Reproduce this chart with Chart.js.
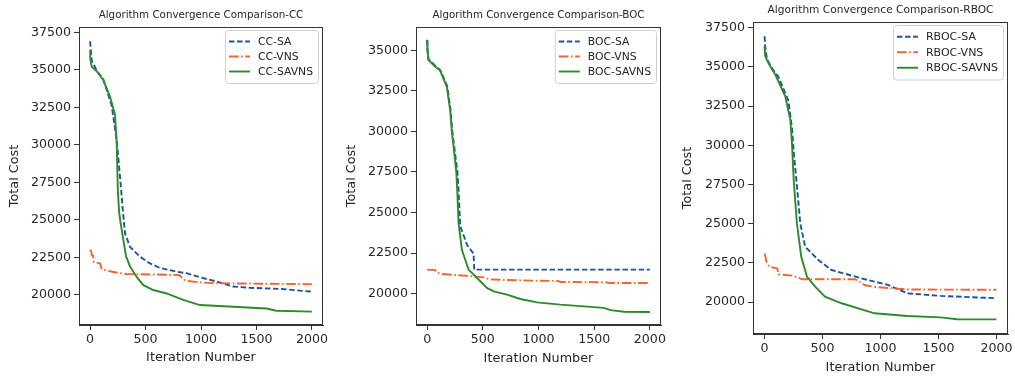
<!DOCTYPE html>
<html>
<head>
<meta charset="utf-8">
<script src="https://cdn.jsdelivr.net/npm/chart.js@4.4.0/dist/chart.umd.min.js"></script>
<style>
  html, body { margin: 0; padding: 0; background: #fff; }
  #wrap { position: relative; width: 1015px; height: 379px; background: #fff; overflow: hidden; }
  canvas { position: absolute; top: 0; }
</style>
</head>
<body>
<div id="wrap">
  <canvas id="c1" width="340" height="379" style="left:0px"></canvas>
  <canvas id="c2" width="335" height="379" style="left:340px"></canvas>
  <canvas id="c3" width="340" height="379" style="left:675px"></canvas>
</div>
<script>
// ---- data ----
var xTicks = [0, 500, 1000, 1500, 2000];
var yTicksCC = [20000, 22500, 25000, 27500, 30000, 32500, 35000, 37500];
var yTicksBOC = [20000, 22500, 25000, 27500, 30000, 32500, 35000];
var yTicksRBOC = [20000, 22500, 25000, 27500, 30000, 32500, 35000, 37500];

// CC
var ccSaX = [0, 15, 60, 120, 195, 240, 278, 295, 315, 360, 450, 540, 630, 780, 870, 990, 1140, 1290, 1440, 1730, 2000];
var ccSaY = [36900, 35600, 34950, 34350, 32600, 30300, 27200, 25650, 24100, 23200, 22550, 22100, 21800, 21550, 21450, 21180, 20900, 20560, 20480, 20400, 20220];
var ccVnsX = [0, 10, 15, 28, 32, 90, 105, 200, 270, 330, 800, 860, 990, 1140, 2000];
var ccVnsY = [23000, 22900, 22650, 22600, 22200, 22100, 21700, 21550, 21450, 21400, 21330, 20950, 20840, 20780, 20720];
var ccSavnsX = [0, 2, 15, 60, 120, 180, 225, 240, 250, 262, 275, 300, 325, 360, 420, 480, 570, 690, 840, 990, 1290, 1590, 1680, 2000];
var ccSavnsY = [36300, 35700, 35200, 34900, 34300, 33200, 32000, 30100, 27000, 25500, 24800, 23650, 22550, 21900, 21200, 20650, 20330, 20100, 19670, 19330, 19220, 19100, 18950, 18890];

// BOC
var bocSaX = [0, 3, 12, 72, 117, 180, 210, 225, 272, 282, 297, 342, 357, 402, 417, 423, 2000];
var bocSaY = [35650, 35050, 34450, 34050, 33780, 32800, 31350, 30050, 27500, 26400, 24140, 23330, 23020, 22600, 22450, 21480, 21480];
var bocVnsX = [0, 72, 87, 120, 250, 390, 420, 510, 560, 700, 950, 1170, 1200, 1600, 1640, 2000];
var bocVnsY = [21480, 21450, 21300, 21220, 21150, 21080, 21050, 21000, 20880, 20840, 20800, 20780, 20720, 20700, 20650, 20650];
var bocSavnsX = [0, 3, 12, 72, 117, 177, 207, 222, 262, 270, 282, 312, 372, 477, 537, 597, 717, 837, 987, 1197, 1317, 1587, 1647, 1767, 2000];
var bocSavnsY = [35600, 35000, 34400, 34000, 33750, 32750, 31300, 30000, 27500, 26400, 24350, 22700, 21480, 20760, 20350, 20140, 19940, 19670, 19460, 19320, 19260, 19120, 18980, 18880, 18870];

// RBOC
var rbocSaX = [0, 5, 20, 60, 120, 205, 236, 251, 279, 308, 350, 464, 578, 835, 1063, 1234, 1519, 2000];
var rbocSaY = [36950, 36300, 35500, 34950, 34350, 32840, 31100, 29600, 27400, 25000, 23530, 22680, 22040, 21510, 21090, 20550, 20390, 20240];
var rbocVnsX = [0, 10, 15, 40, 110, 120, 240, 325, 781, 866, 952, 1234, 2000];
var rbocVnsY = [23100, 22800, 22600, 22250, 22140, 21760, 21680, 21450, 21450, 21070, 20960, 20800, 20780];
var rbocSavnsX = [0, 5, 22, 51, 94, 179, 222, 236, 251, 279, 316, 365, 436, 521, 664, 949, 1234, 1519, 1661, 2000];
var rbocSavnsY = [36300, 35700, 35400, 35000, 34480, 33100, 31600, 30130, 27800, 25000, 22900, 21620, 20980, 20340, 19920, 19280, 19110, 19020, 18900, 18890];

var FONT = "'DejaVu Sans', sans-serif";
var INK = '#262626';

function pts(xs, ys) {
  return xs.map(function (v, i) { return {x: v, y: ys[i]}; });
}

// matplotlib style frame, title and legend
var extras = {
  id: 'extras',
  afterDraw: function (chart, args, o) {
    var ctx = chart.ctx, a = chart.chartArea;
    ctx.save();
    ctx.strokeStyle = '#333';
    ctx.lineWidth = 1;
    ctx.strokeRect(Math.round(a.left) + 0.5, Math.round(a.top) + 0.5,
      Math.round(a.right - a.left) - 1, Math.round(a.bottom - a.top) - 1);

    ctx.fillStyle = INK;
    ctx.font = o.titleSize + 'px ' + FONT;
    ctx.textAlign = 'center';
    ctx.textBaseline = 'middle';
    ctx.fillText(o.title, (a.left + a.right) / 2, o.titleY);

    // legend
    ctx.font = o.legSize + 'px ' + FONT;
    var ds = chart.data.datasets;
    var tw = 0;
    ds.forEach(function (d) { tw = Math.max(tw, ctx.measureText(d.label).width); });
    var w = 4 + 21 + 8 + tw + 5;
    var h = 8 + o.legRow * ds.length;
    var x0 = a.right - 5 - w, y0 = a.top + 3;
    ctx.beginPath();
    ctx.roundRect(x0 + 0.5, y0 + 0.5, w, h, 3);
    ctx.fillStyle = 'rgba(255,255,255,0.85)';
    ctx.fill();
    ctx.strokeStyle = '#d0d0d0';
    ctx.stroke();
    ctx.textAlign = 'left';
    ctx.textBaseline = 'middle';
    // legend keeps plotting order: SA, VNS, SAVNS
    ds.forEach(function (d, i) {
      var yy = y0 + 4 + o.legRow * (i + 0.5);
      ctx.beginPath();
      ctx.setLineDash(d.borderDash || []);
      ctx.strokeStyle = d.borderColor;
      ctx.lineWidth = d.borderWidth;
      ctx.moveTo(x0 + 4, yy);
      ctx.lineTo(x0 + 25, yy);
      ctx.stroke();
      ctx.setLineDash([]);
      ctx.fillStyle = INK;
      ctx.fillText(d.label, x0 + 33, yy + 0.5);
    });
    ctx.restore();
  }
};

function makeChart(id, name, sets, yTicks, yMin, yMax, area, lab) {
  var el = document.getElementById(id);
  var W = el.width, H = el.height;
  var tickFont = {family: FONT, size: 12.6};
  return new Chart(el, {
    type: 'line',
    data: {
      datasets: [
        {label: name + '-SA', data: pts(sets[0], sets[1]), borderColor: '#23529c', borderWidth: 1.9,
          borderDash: [5.5, 2.6], order: 3},
        {label: name + '-VNS', data: pts(sets[2], sets[3]), borderColor: '#f5622a', borderWidth: 1.9,
          borderDash: [9.6, 2.6, 1.6, 2.6], order: 2},
        {label: name + '-SAVNS', data: pts(sets[4], sets[5]), borderColor: '#2b8c2b', borderWidth: 1.9,
          order: 1}
      ]
    },
    options: {
      responsive: false,
      animation: false,
      events: [],
      elements: {point: {radius: 0}, line: {tension: 0}},
      layout: {padding: {left: 0, top: area.t, right: W - area.r, bottom: 0}},
      plugins: {
        legend: {display: false},
        tooltip: {enabled: false},
        extras: {title: 'Algorithm Convergence Comparison-' + name, titleSize: lab.titleSize, titleY: lab.titleY,
          legSize: lab.legSize, legRow: lab.legRow}
      },
      scales: {
        x: {
          type: 'linear', min: -100, max: 2100,
          afterFit: function (s) { s.height = H - area.b; },
          afterBuildTicks: function (s) { s.ticks = xTicks.map(function (v) { return {value: v}; }); },
          grid: {drawOnChartArea: false, color: '#333', tickLength: 5},
          border: {color: '#333', width: 1},
          ticks: {font: tickFont, color: INK, padding: 2, maxRotation: 0,
            callback: function (v) { return String(v); }},
          title: {display: true, text: 'Iteration Number', font: {family: FONT, size: 12.8}, color: INK,
            padding: {top: 0, bottom: lab.xTitlePad}}
        },
        y: {
          type: 'linear', min: yMin, max: yMax,
          afterFit: function (s) { s.width = area.l; },
          afterBuildTicks: function (s) { s.ticks = yTicks.map(function (v) { return {value: v}; }); },
          grid: {drawOnChartArea: false, color: '#333', tickLength: 5},
          border: {color: '#333', width: 1},
          ticks: {font: tickFont, color: INK, padding: 3,
            callback: function (v) { return String(v); }},
          title: {display: true, text: 'Total Cost', font: {family: FONT, size: 12.8}, color: INK,
            padding: {top: lab.yTitlePad, bottom: 0}}
        }
      }
    },
    plugins: [extras]
  });
}

makeChart('c1', 'CC', [ccSaX, ccSaY, ccVnsX, ccVnsY, ccSavnsX, ccSavnsY], yTicksCC, 18000, 37850,
  {l: 79, t: 27, r: 323, b: 325},
  {titleSize: 10.3, titleY: 15, legSize: 10.8, legRow: 15, xTitlePad: 13.3, yTitlePad: 7.3});

makeChart('c2', 'BOC', [bocSaX, bocSaY, bocVnsX, bocVnsY, bocSavnsX, bocSavnsY], yTicksBOC, 18065, 36435,
  {l: 76, t: 27, r: 321, b: 325},
  {titleSize: 10.3, titleY: 15, legSize: 10.8, legRow: 15, xTitlePad: 12.3, yTitlePad: 4.3});

makeChart('c3', 'RBOC', [rbocSaX, rbocSaY, rbocVnsX, rbocVnsY, rbocSavnsX, rbocSavnsY], yTicksRBOC, 17960, 37860,
  {l: 78, t: 22, r: 333, b: 334},
  {titleSize: 10.6, titleY: 10, legSize: 11, legRow: 15.5, xTitlePad: 3.3, yTitlePad: 5.3});
</script>
</body>
</html>
